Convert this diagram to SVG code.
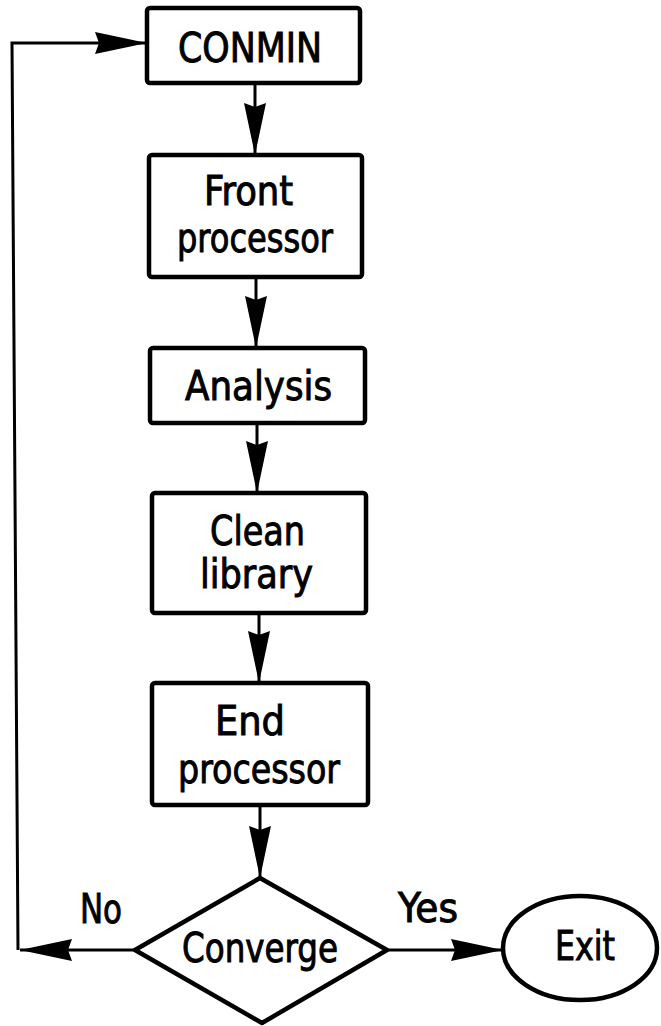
<svg xmlns="http://www.w3.org/2000/svg" width="661" height="1026" viewBox="0 0 661 1026">
<style>
.box{fill:#fff;stroke:#000;stroke-width:4.5;stroke-linejoin:round}
.lbl{font-family:"DejaVu Sans Condensed","Liberation Sans Narrow","Liberation Sans",sans-serif;font-size:40px;fill:#000;stroke:#000;stroke-width:0.9;text-anchor:middle}
.edge{fill:none;stroke:#000;stroke-width:3}
</style>
<defs>
<marker id="ah" markerUnits="userSpaceOnUse" markerWidth="54" markerHeight="24" refX="52" refY="11" orient="auto">
<path d="M0,0 L52,11 L0,22 L4,11 z" fill="#000"/>
</marker>
</defs>
<rect width="661" height="1026" fill="#fff"/>
<g id="connectors">
<path class="edge" d="M255,83 V155" marker-end="url(#ah)"/>
<path class="edge" d="M256,277 V348" marker-end="url(#ah)"/>
<path class="edge" d="M257,423 V493" marker-end="url(#ah)"/>
<path class="edge" d="M259,613 V683" marker-end="url(#ah)"/>
<path class="edge" d="M260,805 V878" marker-end="url(#ah)"/>
<path class="edge" d="M135,950 H20" marker-end="url(#ah)"/>
<path class="edge" d="M18,950 L12,43 H147" marker-end="url(#ah)"/>
<path class="edge" d="M387,950 H503" marker-end="url(#ah)"/>
</g>
<g id="conmin">
<rect class="box" x="147" y="8" width="213" height="75" rx="3"/>
<text class="lbl" x="250" y="62" textLength="144" lengthAdjust="spacingAndGlyphs">CONMIN</text>
</g>
<g id="front">
<rect class="box" x="149" y="155" width="213" height="122" rx="3"/>
<text class="lbl" x="248.5" y="205" textLength="89" lengthAdjust="spacingAndGlyphs">Front</text>
<text class="lbl" x="255" y="252" textLength="156" lengthAdjust="spacingAndGlyphs">processor</text>
</g>
<g id="analysis">
<rect class="box" x="150" y="348" width="215" height="75" rx="3"/>
<text class="lbl" x="258.5" y="400" textLength="147" lengthAdjust="spacingAndGlyphs">Analysis</text>
</g>
<g id="clean">
<rect class="box" x="152" y="493" width="214" height="120" rx="3"/>
<text class="lbl" x="257.5" y="545" textLength="95" lengthAdjust="spacingAndGlyphs">Clean</text>
<text class="lbl" x="256.5" y="588" textLength="113" lengthAdjust="spacingAndGlyphs">library</text>
</g>
<g id="end">
<rect class="box" x="152" y="683" width="216" height="122" rx="3"/>
<text class="lbl" x="250" y="735" textLength="70" lengthAdjust="spacingAndGlyphs">End</text>
<text class="lbl" x="259" y="783" textLength="162" lengthAdjust="spacingAndGlyphs">processor</text>
</g>
<g id="converge">
<polygon class="box" points="260,878 387,950 262,1023 135,950"/>
<text class="lbl" x="260" y="962" textLength="156" lengthAdjust="spacingAndGlyphs">Converge</text>
</g>
<g id="exit">
<ellipse class="box" cx="580" cy="948" rx="77" ry="52"/>
<text class="lbl" x="585" y="960" textLength="60" lengthAdjust="spacingAndGlyphs">Exit</text>
</g>
<g id="labels">
<text class="lbl" x="101" y="923" textLength="42" lengthAdjust="spacingAndGlyphs">No</text>
<text class="lbl" x="428" y="922" textLength="60" lengthAdjust="spacingAndGlyphs">Yes</text>
</g>
</svg>
